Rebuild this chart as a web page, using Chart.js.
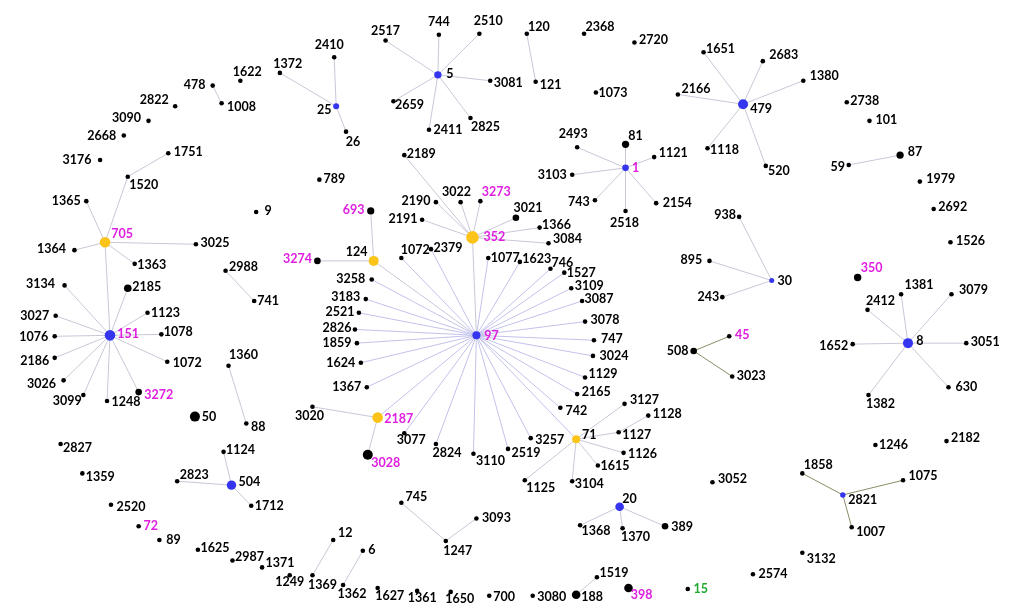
<!DOCTYPE html>
<html>
<head>
<meta charset="utf-8">
<script src="https://cdn.jsdelivr.net/npm/chart.js@4.4.1/dist/chart.umd.min.js"></script>
<style>
  html, body { margin: 0; padding: 0; background: #fff; }
  #wrap { width: 1018px; height: 607px; }
</style>
</head>
<body>
<div id="wrap"><canvas id="net"></canvas></div>
<script>
// node layout coordinates [id, x, y]; ids after '#' are only for duplicates
const nodes = [
  ['1622',237,76],['478',209,81],['1008',218,99],['2822',171,102],['3090',144,117],['2668',119,132],
  ['3176',95,157],['1751',164,150],['1520',123,174],['1365',81,199],
  ['2410',332,52],['1372',277,68],['25',334,102],['26',344,128],
  ['2517',384,35],['744',438,29],['2510',479,28],['5',437,70],['3081',490,76],['2659',392,97],['2411',428,126],['2825',470,114],
  ['2189',403,152],['789',317,177],['2190',435,200],['3022',460,200],['3273',480,199],['693',369,209],['9',253,210],
  ['120',527,28],['121',536,77],['2368',585,28],['2720',636,37],['1073',597,88],
  ['1651',706,47],['2166',680,90],['479',746,100],['1118',710,145],['2683',766,56],['1380',807,76],['520',769,163],
  ['2493',578,144],['81',627,141],['1121',656,154],['1',627,165],['3103',573,172],['743',596,198],['2154',658,201],['2518',627,209],
  ['2738',851,98],['101',874,117],['87',905,152],['59',853,162],['1979',925,179],['2692',939,207],
  ['705',100,241],['1364',69,249],['3025',192,243],['1363',130,263],['2988',222,270],['741',251,301],
  ['3134',59,285],['2185',123,288],['3027',50,316],['1123',143,313],['151',105,336],['1078',157,335],['1076',49,337],
  ['2186',49,359],['1072',163,363],['1360',225,367],['3026',58,382],['3099',78,397],['1248',102,403],['3272',134,394],
  ['3274',315,260],['124',372,260],['2191',421,218],['352',472,236],['1072#2',400,257],['2379',430,248],['1077',488,257],
  ['3258',370,279],['3183',364,299],['2521',357,313],['2826',353,330],['1859',355,344],['97',476,336],['1624',359,364],['1367',365,389],
  ['3021',516,216],['1366',540,226],['3084',549,242],['1623',520,261],['746',551,268],['1527',565,272],['3109',572,288],
  ['3087',583,301],['3078',586,322],['747',595,341],['3024',594,357],['1129',586,379],['2165',578,396],['3127',626,406],
  ['938',742,215],['895',712,260],['243',725,297],['30',775,280],['45',732,337],['508',696,352],['3023',735,378],
  ['1526',956,241],['350',862,277],['1381',906,294],['3079',957,294],['2412',872,310],['8',913,344],['1652',857,345],
  ['3051',972,344],['630',954,389],['1382',873,397],
  ['50',191,419],['88',243,426],['2827',55,447],['1124',220,455],['1359',77,477],['2823',173,485],['504',228,489],
  ['1712',248,510],['2520',106,509],['72',134,531],['89',155,545],['1625',194,555],['2987',229,566],['1371',259,573],
  ['3020',310,409],['2187',376,420],['3077',403,436],['3028',366,458],['2824',435,447],['3110',473,457],
  ['745',400,507],['3093',476,523],['1247',445,546],['12',331,545],['6',361,556],['1249',287,581],['1369',310,581],
  ['1362',341,591],['1627',376,594],['1361',416,597],['1650',450,598],['700',489,602],
  ['742',561,410],['1128',650,418],['71',577,442],['1127',620,435],['3257',531,441],['2519',508,452],['1126',625,456],
  ['1615',599,469],['3104',573,485],['1125',525,484],['3052',715,486],['20',621,511],['1368',581,530],['1370',624,533],
  ['389',667,531],['1519',598,583],['188',577,601],['3080',533,602],['398',630,594],['15',690,595],
  ['2182',952,444],['1246',880,448],['1858',806,477],['1075',908,484],['2821',847,499],['1007',856,532],
  ['3132',806,558],['2574',756,580]
];

// links between nodes
const edges = [
  ['478','1008'],['1751','1520'],['1520','705'],['1365','705'],
  ['705','1364'],['705','3025'],['705','1363'],['705','151'],
  ['151','3134'],['151','3027'],['151','1076'],['151','2186'],['151','3026'],['151','3099'],['151','1248'],
  ['151','3272'],['151','1072'],['151','1078'],['151','1123'],['151','2185'],
  ['2988','741'],['1360','88'],['1124','504'],['2823','504'],['504','1712'],
  ['25','2410'],['25','1372'],['25','26'],
  ['5','2517'],['5','744'],['5','2510'],['5','3081'],['5','2825'],['5','2411'],['5','2659'],
  ['120','121'],
  ['479','1651'],['479','2683'],['479','1380'],['479','520'],['479','1118'],['479','2166'],
  ['1','81'],['1','1121'],['1','2154'],['1','2518'],['1','743'],['1','3103'],['1','2493'],
  ['59','87'],
  ['352','2189'],['352','2190'],['352','2191'],['352','3022'],['352','3273'],['352','3021'],['352','1366'],['352','3084'],['352','97'],
  ['124','693'],['124','3274'],['124','97'],
  ['97','1072#2'],['97','2379'],['97','1077'],['97','1623'],['97','746'],['97','1527'],['97','3109'],['97','3087'],
  ['97','3078'],['97','747'],['97','3024'],['97','1129'],['97','2165'],['97','742'],['97','71'],['97','3257'],
  ['97','2519'],['97','3110'],['97','2824'],['97','3077'],['97','2187'],['97','1367'],['97','1624'],['97','1859'],
  ['97','2826'],['97','2521'],['97','3183'],['97','3258'],
  ['71','3127'],['71','1127'],['1127','1128'],['71','1126'],['71','1615'],['71','3104'],['71','1125'],
  ['2187','3020'],['2187','3028'],
  ['20','1368'],['20','1370'],['20','389'],
  ['30','938'],['30','895'],['30','243'],
  ['508','45'],['508','3023'],
  ['8','2412'],['8','1381'],['8','3079'],['8','1652'],['8','3051'],['8','630'],['8','1382'],
  ['2821','1858'],['2821','1075'],['2821','1007'],
  ['745','1247'],['1247','3093'],['12','1369'],['6','1362'],['1519','188']
];

const blueHubs = ['97','151','479','8','504','20','5','1','25','30','2821'];
const yellowHubs = ['352','705','2187','124','71'];
const magentaLabels = ['705','151','3272','693','3274','352','3273','97','2187','3028','1','45','350','72','398'];
const greenLabels = ['15'];

// styling / layout of the marks and labels
const radius = {
  '97':4,'151':5.3,'479':5,'8':5,'504':4.7,'20':4.3,'5':3.7,'1':3.3,'25':3,'30':2.5,'2821':2.7,
  '352':6.3,'705':5.3,'2187':5.3,'124':5,'71':4,
  '50':5,'3028':5,'81':3.6,'87':3.6,'693':3.6,'3021':3.3,'2185':3.8,'3272':3.3,'3274':3.3,
  '508':3.3,'350':3.7,'389':3.3,'188':4.3,'398':4.3
};
const oliveHubs = ['508','2821'];
const labelOffset = {
  '1622':[7,-9],'478':[-18,-1],'1008':[20,4],'2822':[-21,-6],'3090':[-22,-3],'2668':[-22,0],'3176':[-23,0],
  '1751':[20,-1],'1520':[16,8],'1365':[-20,0],'2410':[-5,-12],'1372':[8,-9],'25':[-12,4],'26':[7,10],
  '2517':[0,-10],'744':[0,-13],'2510':[9,-13],'5':[12,-1],'3081':[18,2],'2659':[16,4],'2411':[19,0],'2825':[15,9],
  '2189':[17,-1],'789':[15,-1],'2190':[-20,-1],'3022':[-4,-10],'3273':[16,-9],'693':[-17,-1],'9':[12,-1],
  '120':[12,-7],'121':[15,3],'2368':[16,-7],'2720':[19,-3],'1073':[17,0],'1651':[17,-3],'2166':[18,-5],
  '479':[18,5],'1118':[17,2],'2493':[-4,-13],'81':[10,-8],'1121':[19,-4],'1':[10,0],'3103':[-20,0],
  '743':[-16,2],'2154':[21,0],'2518':[-1,12],'2683':[21,-6],'1380':[21,-5],'2738':[18,-1],'101':[17,-1],
  '87':[15,-3],'59':[-11,2],'520':[13,5],'1979':[21,-3],'2692':[19,-2],'705':[17,-8],'1364':[-23,-1],
  '3025':[19,-1],'1363':[17,1],'2988':[18,-4],'741':[14,0],'3134':[-24,-1],'2185':[19,-1],'3027':[-21,0],
  '1123':[18,0],'151':[18,-1],'1078':[17,-2],'1076':[-21,1],'2186':[-20,3],'1072':[20,1],'1360':[15,-11],
  '3026':[-22,4],'3099':[-16,6],'1248':[19,1],'3272':[20,3],'3274':[-20,-2],'124':[-17,-9],'2191':[-19,-1],
  '352':[22,0],'1072#2':[14,-8],'2379':[17,-1],'1077':[17,0],'3258':[-21,-1],'3183':[-20,-2],'2521':[-19,-1],
  '2826':[-18,-1],'1859':[-20,0],'97':[15,1],'1624':[-20,0],'1367':[-20,0],'3021':[12,-10],'1366':[17,-3],
  '3084':[19,-4],'1623':[17,-3],'746':[12,-6],'1527':[17,0],'3109':[18,-2],'3087':[17,-2],'3078':[20,-2],
  '747':[18,-1],'3024':[21,0],'1129':[18,-3],'2165':[19,-2],'3127':[20,-4],'938':[-14,-2],'895':[-18,-1],
  '243':[-14,0],'30':[13,0],'45':[13,-1],'508':[-16,0],'3023':[19,0],'1526':[20,-1],'350':[14,-10],
  '1381':[18,-9],'3079':[22,-4],'2412':[13,-9],'8':[12,-2],'1652':[-19,2],'3051':[19,-1],'630':[18,0],
  '1382':[12,9],'50':[14,0],'88':[12,4],'2827':[17,4],'1124':[17,-2],'1359':[18,4],'2823':[17,-6],
  '504':[18,-3],'1712':[18,0],'2520':[20,2],'72':[12,0],'89':[14,0],'1625':[17,-2],'2987':[17,-4],
  '1371':[18,-4],'3020':[-3,9],'2187':[21,1],'3077':[7,7],'3028':[18,8],'2824':[11,9],'3110':[17,7],
  '745':[15,-6],'3093':[20,0],'1247':[12,10],'12':[12,-7],'6':[9,-1],'1249':[0,7],'1369':[10,10],
  '1362':[9,9],'1627':[12,8],'1361':[5,7],'1650':[9,7],'700':[15,1],'742':[16,3],'1128':[19,-2],
  '71':[13,-4],'1127':[18,3],'3257':[19,2],'2519':[18,4],'1126':[19,1],'1615':[17,0],'3104':[17,3],
  '1125':[16,8],'3052':[20,-3],'20':[10,-8],'1368':[16,6],'1370':[13,9],'389':[17,1],'1519':[17,-4],
  '188':[16,2],'3080':[19,1],'398':[13,7],'15':[13,0],'2182':[19,-3],'1246':[18,0],'1858':[16,-8],
  '1075':[20,-4],'2821':[20,5],'1007':[19,5],'3132':[19,6],'2574':[20,0]
};

const pos = {};
nodes.forEach(n => { pos[n[0]] = { x: n[1], y: n[2] }; });

function nodeColor(id) {
  if (blueHubs.includes(id)) return '#3535f0';
  if (yellowHubs.includes(id)) return '#fcc419';
  return '#000000';
}

const edgePlugin = {
  id: 'edges',
  beforeDatasetsDraw(chart) {
    const ctx = chart.ctx;
    const xs = chart.scales.x, ys = chart.scales.y;
    ctx.save();
    ctx.lineWidth = 1;
    edges.forEach(e => {
      const a = pos[e[0]], b = pos[e[1]];
      const olive = oliveHubs.includes(e[0]) || oliveHubs.includes(e[1]);
      ctx.strokeStyle = olive ? '#8c8c66' : (e[0] === '97' ? '#c2c2ec' : '#c8c8d8');
      ctx.beginPath();
      ctx.moveTo(xs.getPixelForValue(a.x), ys.getPixelForValue(a.y));
      ctx.lineTo(xs.getPixelForValue(b.x), ys.getPixelForValue(b.y));
      ctx.stroke();
    });
    ctx.restore();
  }
};

const labelPlugin = {
  id: 'labels',
  afterDatasetsDraw(chart) {
    const ctx = chart.ctx;
    const xs = chart.scales.x, ys = chart.scales.y;
    ctx.save();
    ctx.font = 'bold 12.5px Lato';
    ctx.textAlign = 'center';
    ctx.textBaseline = 'middle';
    nodes.forEach(n => {
      const id = n[0];
      const off = labelOffset[id] || [15, 0];
      ctx.fillStyle = magentaLabels.includes(id) ? '#e020e0' : (greenLabels.includes(id) ? '#22aa33' : '#000000');
      ctx.fillText(id.split('#')[0], xs.getPixelForValue(n[1]) + off[0], ys.getPixelForValue(n[2]) + off[1]);
    });
    ctx.restore();
  }
};

new Chart(document.getElementById('net'), {
  type: 'scatter',
  data: {
    datasets: [{
      data: nodes.map(n => ({ x: n[1], y: n[2] })),
      pointRadius: nodes.map(n => radius[n[0]] || 2.3),
      pointHoverRadius: nodes.map(n => radius[n[0]] || 2.3),
      pointBackgroundColor: nodes.map(n => nodeColor(n[0])),
      pointBorderWidth: 0,
      borderWidth: 0
    }]
  },
  options: {
    responsive: true,
    maintainAspectRatio: false,
    animation: false,
    layout: { padding: 0 },
    plugins: { legend: { display: false }, tooltip: { enabled: false } },
    scales: {
      x: { type: 'linear', min: 0, max: 1018, display: false },
      y: { type: 'linear', min: 0, max: 607, reverse: true, display: false }
    }
  },
  plugins: [edgePlugin, labelPlugin]
});
</script>
</body>
</html>
